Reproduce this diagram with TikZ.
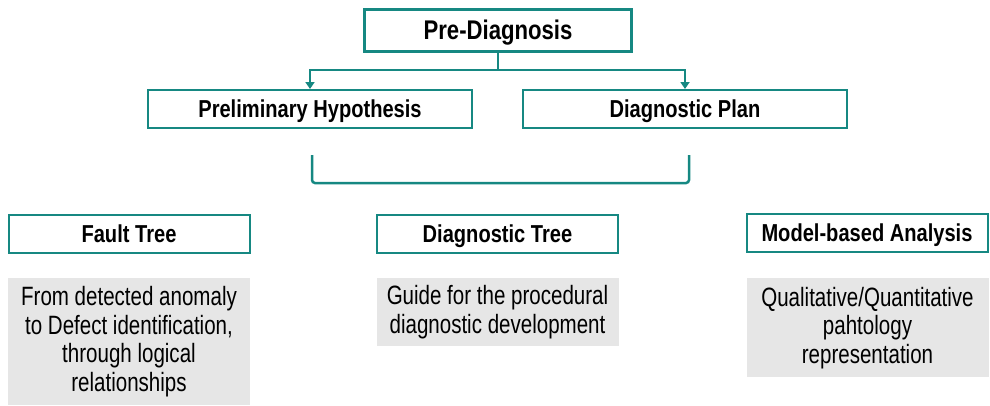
\documentclass[tikz,border=0pt]{standalone}
\usepackage{fontspec}
\setmainfont{Liberation Sans}[FakeStretch=0.82]
\newfontfamily\headnarrow{Liberation Sans}[FakeStretch=0.82]
\newfontfamily\bodynarrow{Liberation Sans}[FakeStretch=0.775]
\usetikzlibrary{arrows.meta}
\definecolor{teal}{RGB}{22,136,130}
\definecolor{panel}{RGB}{230,230,230}
\begin{document}
\begin{tikzpicture}[x=1pt,y=-1pt,
  topbox/.style={draw=teal,line width=3pt,fill=white,minimum width=267pt,minimum height=42pt,
    font=\headnarrow\fontsize{27}{30}\selectfont\bfseries,inner sep=0pt,
    text height=19.5pt,text depth=0pt},
  subbox/.style={draw=teal,line width=2pt,fill=white,minimum width=324pt,minimum height=38pt,
    font=\headnarrow\fontsize{24.5}{27}\selectfont\bfseries,inner sep=0pt,
    text height=17.5pt,text depth=0pt},
  toolbox/.style={subbox,minimum width=241pt},
  notebox/.style={fill=panel,minimum width=242pt,inner sep=0pt,align=center,
    font=\bodynarrow\fontsize{26.5}{28.5}\selectfont},
  link/.style={draw=teal,line width=2.5pt},
  arr/.style={link,-{Triangle[length=7pt,width=9pt]}}
]
\useasboundingbox (0,0) rectangle (990,405);

% top level
\node[topbox] (pre) at (498,30) {Pre-Diagnosis};
\node[subbox] (hyp) at (310,109) {Preliminary Hypothesis};
\node[subbox] (plan) at (685,109) {Diagnostic Plan};

% fork from Pre-Diagnosis to both sub-boxes
\coordinate (fork) at (498,70);
\draw[link] (pre.south) -- (fork);
\draw[arr] (fork) -| (hyp.north);
\draw[arr] (fork) -| (plan.north);

% bracket gathering the two sub-boxes
\coordinate (bl) at (312,155);
\coordinate (br) at (689,155);
\draw[link,rounded corners=3pt] (bl) -- (312,183) -- (689,183) -- (br);

% diagnostic tools
\node[toolbox] (ft) at (129,233.5) {Fault Tree};
\node[toolbox] (dt) at (497.5,233.5) {Diagnostic Tree};
\node[toolbox] (mb) at (867,233) {Model-based Analysis};

% descriptions
\node[notebox,minimum height=127pt,anchor=north] (ftn) at (129,278)
  {From detected anomaly\\to Defect identification,\\through logical\\relationships};
\node[notebox,minimum height=68pt,anchor=north] (dtn) at (497.5,278)
  {Guide for the procedural\\diagnostic development};
\node[notebox,minimum height=99pt,anchor=north] (mbn) at (867.5,278)
  {Qualitative/Quantitative\\pahtology\\representation};
\end{tikzpicture}
\end{document}
